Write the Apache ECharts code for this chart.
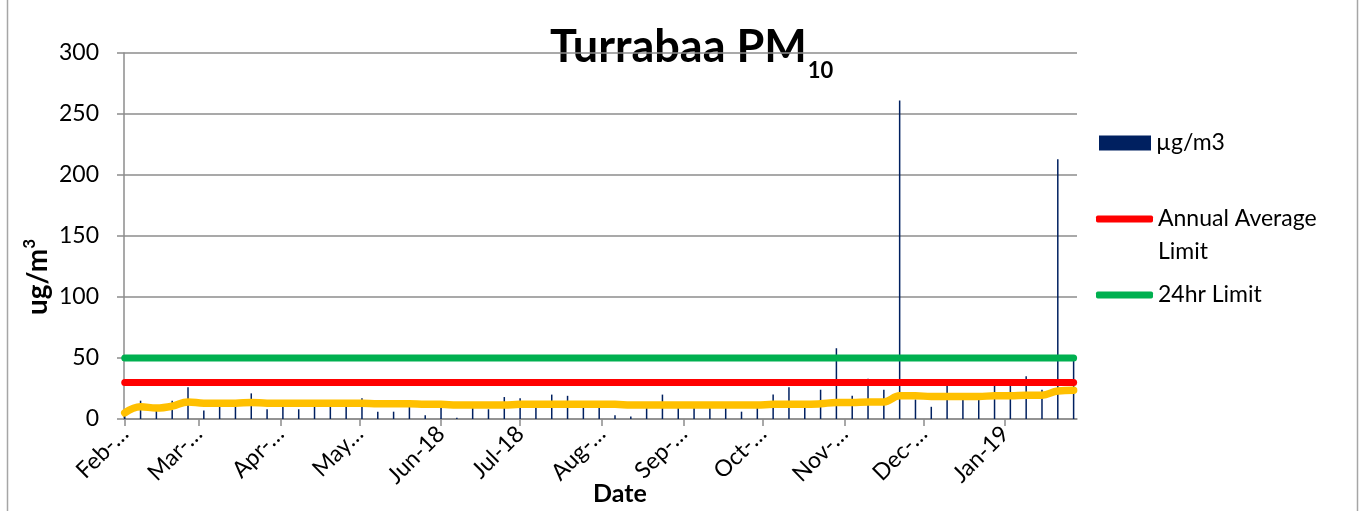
<!DOCTYPE html>
<html>
<head>
<meta charset="utf-8">
<title>Turrabaa PM10</title>
<script src="https://cdn.jsdelivr.net/npm/echarts@6/dist/echarts.min.js"></script>
<style>
  html, body { margin: 0; padding: 0; background: #fff; }
  #chart { width: 1360px; height: 511px; }
</style>
</head>
<body>
<div id="chart"></div>
<script>
  // sampling days (one in six days)
  var sampleDates = [
    '2018-02-01', '2018-02-07', '2018-02-13', '2018-02-19', '2018-02-25',
    '2018-03-03', '2018-03-09', '2018-03-15', '2018-03-21', '2018-03-27',
    '2018-04-02', '2018-04-08', '2018-04-14', '2018-04-20', '2018-04-26',
    '2018-05-02', '2018-05-08', '2018-05-14', '2018-05-20', '2018-05-26',
    '2018-06-01', '2018-06-07', '2018-06-13', '2018-06-19', '2018-06-25',
    '2018-07-01', '2018-07-07', '2018-07-13', '2018-07-19', '2018-07-25',
    '2018-07-31', '2018-08-06', '2018-08-12', '2018-08-18', '2018-08-24',
    '2018-08-30', '2018-09-05', '2018-09-11', '2018-09-17', '2018-09-23',
    '2018-09-29', '2018-10-05', '2018-10-11', '2018-10-17', '2018-10-23',
    '2018-10-29', '2018-11-04', '2018-11-10', '2018-11-16', '2018-11-22',
    '2018-11-28', '2018-12-04', '2018-12-10', '2018-12-16', '2018-12-22',
    '2018-12-28', '2019-01-03', '2019-01-09', '2019-01-15', '2019-01-21',
    '2019-01-27'
  ]
  // PM10 daily values, ug/m3
  var pm10 = [
    5, 15, 7, 15, 26, 7, 12, 11, 21, 8,
    12, 8, 12, 11, 11, 17, 6, 6, 11, 3,
    11, 1, 11, 8, 18, 17, 11, 20, 19, 11,
    11, 3, 2, 10, 20, 11, 11, 11, 11, 6,
    11, 20, 26, 12, 24, 58, 19, 33, 24, 261,
    16, 10, 29, 18, 17, 28, 28, 35, 24, 213,
    48
  ]
  // running average (yellow line)
  var runningAvg = [
    5, 10, 9, 10.5, 14, 13, 13, 13, 13.5, 13,
    13, 13, 13, 13, 13, 13, 12.5, 12.5, 12.5, 12,
    12, 11.5, 11.5, 11.5, 11.5, 12, 12, 12, 12, 12,
    12, 12, 11.5, 11.5, 11.5, 11.5, 11.5, 11.5, 11.5, 11.5,
    11.5, 12, 12, 12, 12.5, 13.5, 13.5, 14, 14, 19,
    19, 18.5, 18.5, 18.5, 18.5, 19, 19, 19.5, 19.5, 23,
    23.5
  ]
  var annualLimit = 30
  var dailyLimit = 50
  // month tick labels, indexed by month number
  var monthLabels = ['Jan-19', 'Feb-…', 'Mar-…', 'Apr-…', 'May…', 'Jun-18',
    'Jul-18', 'Aug-…', 'Sep-…', 'Oct-…', 'Nov-…', 'Dec-…']
  var yTicks = [0, 300, 50]

  var FONT = 'Lato'
  var GREY = '#8c8c8c'
  var ONE_DAY = 86400000
  var TITLE_FONT = 'bold 45px Lato'

  var chart = echarts.init(document.getElementById('chart'), null, { renderer: 'canvas' })

  function pairs (vals) {
    return vals.map(function (v, i) { return [sampleDates[i], v] })
  }
  var first = sampleDates[0]
  var last = sampleDates[sampleDates.length - 1]

  // width of the main title, so the subscript sits right after it
  var ctx = document.createElement('canvas').getContext('2d')
  ctx.font = TITLE_FONT
  var titleWidth = ctx.measureText('Turrabaa PM').width

  function limitLine (name, value, color) {
    return {
      name: name,
      type: 'line',
      data: [[first, value], [last, value]],
      showSymbol: false,
      symbol: 'none',
      z: 3,
      lineStyle: { color: color, width: 7, cap: 'round' },
      itemStyle: { color: color }
    }
  }

  var legendText = { fontFamily: FONT, fontSize: 23, color: '#000', lineHeight: 33 }

  chart.setOption({
    animation: false,
    grid: {
      left: 124,
      right: 283,
      top: 53,
      bottom: 92,
      containLabel: false
    },
    legend: [
      {
        data: ['µg/m3'],
        left: 1099,
        top: 126.5,
        padding: 0,
        icon: 'rect',
        itemWidth: 52,
        itemHeight: 15,
        selectedMode: false,
        textStyle: legendText
      },
      {
        data: ['Annual Average Limit'],
        left: 1096,
        top: 169.5,
        padding: 0,
        icon: 'roundRect',
        itemWidth: 57,
        itemHeight: 7,
        selectedMode: false,
        formatter: function () { return ' \nAnnual Average\nLimit' },
        textStyle: legendText
      },
      {
        data: ['24hr Limit'],
        left: 1096,
        top: 278.5,
        padding: 0,
        icon: 'roundRect',
        itemWidth: 57,
        itemHeight: 7,
        selectedMode: false,
        textStyle: legendText
      }
    ],
    xAxis: {
      type: 'time',
      min: +new Date(2018, 1, 1),
      max: +new Date(2019, 0, 28),
      minInterval: 28 * ONE_DAY,
      maxInterval: 31 * ONE_DAY,
      axisLine: { show: true, lineStyle: { color: GREY, width: 1.5 } },
      axisTick: { show: true, length: 7, lineStyle: { color: GREY, width: 1.5 } },
      minorTick: { show: false },
      splitLine: { show: false },
      axisLabel: {
        rotate: 45,
        margin: 11,
        showMaxLabel: false,
        fontFamily: FONT,
        fontSize: 23,
        color: '#000',
        formatter: function (val) {
          return monthLabels[new Date(val).getMonth()]
        }
      }
    },
    yAxis: {
      type: 'value',
      min: yTicks[0],
      max: yTicks[1],
      interval: yTicks[2],
      axisLine: { show: true, lineStyle: { color: GREY, width: 1.5 } },
      axisTick: { show: true, length: 7, lineStyle: { color: GREY, width: 1.5 } },
      splitLine: { show: true, lineStyle: { color: GREY, width: 1.5 } },
      axisLabel: {
        margin: 25,
        fontFamily: FONT,
        fontSize: 23,
        color: '#000'
      }
    },
    graphic: [
      {
        type: 'rect',
        silent: true,
        shape: { x: 7.5, y: -10, width: 1350, height: 540 },
        style: { fill: 'none', stroke: '#a6a6a6', lineWidth: 1.5 }
      },
      {
        type: 'text',
        silent: true,
        x: 550,
        y: 47,
        style: {
          text: 'Turrabaa PM',
          align: 'left',
          verticalAlign: 'middle',
          font: TITLE_FONT,
          fill: '#000'
        }
      },
      {
        type: 'text',
        silent: true,
        x: 550 + titleWidth + 1,
        y: 71,
        style: {
          text: '10',
          align: 'left',
          verticalAlign: 'middle',
          font: 'bold 22px Lato',
          fill: '#000'
        }
      },
      {
        type: 'text',
        silent: true,
        x: 38,
        y: 277,
        rotation: Math.PI / 2,
        style: {
          text: '{a|ug/m}{b|3}',
          align: 'center',
          verticalAlign: 'middle',
          rich: {
            a: { fontFamily: FONT, fontSize: 28, fontWeight: 'bold', fill: '#000', lineHeight: 34 },
            b: { fontFamily: FONT, fontSize: 17, fontWeight: 'bold', fill: '#000', lineHeight: 16, verticalAlign: 'top' }
          }
        }
      },
      {
        type: 'text',
        silent: true,
        x: 620,
        y: 494,
        style: {
          text: 'Date',
          align: 'center',
          verticalAlign: 'middle',
          fontFamily: FONT,
          fontSize: 25,
          fontWeight: 'bold',
          fill: '#000'
        }
      }
    ],
    series: [
      {
        name: 'µg/m3',
        type: 'bar',
        data: pairs(pm10),
        barWidth: 1.5,
        z: 2,
        itemStyle: { color: '#002060' }
      },
      limitLine('Annual Average Limit', annualLimit, '#FF0000'),
      limitLine('24hr Limit', dailyLimit, '#00B050'),
      {
        name: 'Running Average',
        type: 'line',
        data: pairs(runningAvg),
        smooth: 0.4,
        showSymbol: false,
        symbol: 'none',
        z: 4,
        lineStyle: { color: '#FFC000', width: 7.5, cap: 'round', join: 'round' },
        itemStyle: { color: '#FFC000' }
      }
    ]
  })
</script>
</body>
</html>
